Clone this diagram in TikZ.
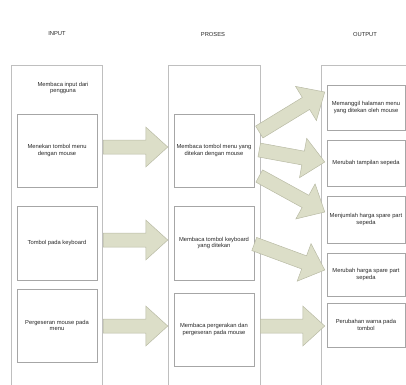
\documentclass[tikz,border=0pt]{standalone}
\usepackage{fontspec}
\setmainfont{Liberation Sans}
\usetikzlibrary{calc}
\definecolor{panahisi}{RGB}{220,222,200}
\definecolor{panahgaris}{RGB}{185,187,165}

% block arrow from #1 to #2
\newcommand{\blok}[2]{%
  \coordinate (hb) at ($(#2)!22pt!(#1)$);
  \draw[panah] ($(#1)!7pt!90:(#2)$) -- ($(hb)!7pt!90:(#2)$) -- ($(hb)!20pt!90:(#2)$) -- (#2)
    -- ($(hb)!20pt!-90:(#2)$) -- ($(hb)!7pt!-90:(#2)$) -- ($(#1)!7pt!-90:(#2)$) -- cycle;
}

\begin{document}
\begin{tikzpicture}[x=1pt,y=-1pt,
  kolom/.style={draw=black!25, line width=0.6pt},
  kotak/.style={draw=black!35, line width=0.5pt, align=center, inner sep=1pt,
    font=\fontsize{5.8}{6.6}\selectfont, text=black!85},
  judul/.style={font=\fontsize{5.8}{6.6}\selectfont, text=black!85},
  panah/.style={fill=panahisi, draw=panahgaris, line width=0.5pt}]
  \useasboundingbox (0,0) rectangle (406,384);
  \def\lb{80}   % box width input/proses
  \def\lo{78}   % box width output
  % columns
  \foreach \a/\b in {11/102,168/260,321/412} { \draw[kolom] (\a,390) -- (\a,65) -- (\b,65) -- (\b,390); }
  \node[judul] (hin) at (57,34) {INPUT};
  \node[judul] (hpr) at (213,34) {PROSES};
  \node[judul] (hout) at (365,34) {OUTPUT};
  % input
  \node[judul, align=center] (in0) at (63,88) {Membaca input dari\\pengguna};
  \node[kotak, minimum width=\lb, minimum height=73] (in1) at (57,150.5) {Menekan tombol menu\\dengan mouse};
  \node[kotak, minimum width=\lb, minimum height=74] (in2) at (57,243) {Tombol pada keyboard};
  \node[kotak, minimum width=\lb, minimum height=73] (in3) at (57,325.5) {Pergeseran mouse pada\\menu};
  % proses
  \node[kotak, minimum width=\lb, minimum height=73] (pr1) at (214,150.5) {Membaca tombol menu yang\\ditekan dengan mouse};
  \node[kotak, minimum width=\lb, minimum height=74] (pr2) at (214,243) {Membaca tombol keyboard\\yang ditekan};
  \node[kotak, minimum width=\lb, minimum height=73] (pr3) at (214,329.5) {Membaca pergerakan dan\\pergeseran pada mouse};
  % output
  \node[kotak, minimum width=\lo, minimum height=45] (out1) at (366,107.5) {Memanggil halaman menu\\yang ditekan oleh mouse};
  \node[kotak, minimum width=\lo, minimum height=46] (out2) at (366,163) {Merubah tampilan sepeda};
  \node[kotak, minimum width=\lo, minimum height=47] (out3) at (366,219.5) {Menjumlah harga spare part\\sepeda};
  \node[kotak, minimum width=\lo, minimum height=43] (out4) at (366,274.5) {Merubah harga spare part\\sepeda};
  \node[kotak, minimum width=\lo, minimum height=44] (out5) at (366,325) {Perubahan warna pada\\tombol};
  % arrows input -> proses
  \coordinate (a1) at ([shift={(6,-3.5)}]in1.east);  \coordinate (b1) at ([shift={(-6,-3.5)}]pr1.west);
  \coordinate (a2) at ([shift={(6,-3)}]in2.east);    \coordinate (b2) at ([shift={(-6,-3)}]pr2.west);
  \coordinate (a3) at ([shift={(6,0.5)}]in3.east);   \coordinate (b3) at ([shift={(-6,-3.5)}]pr3.west);
  % arrows proses -> output
  \coordinate (c1) at ([shift={(5,-18.5)}]pr1.east); \coordinate (d1) at ([shift={(-2,-15.5)}]out1.west);
  \coordinate (c2) at ([shift={(5,-0.5)}]pr1.east);  \coordinate (d2) at ([shift={(-2,-1)}]out2.west);
  \coordinate (c3) at ([shift={(5,25.5)}]pr1.east);  \coordinate (d3) at ([shift={(-2,-7.5)}]out3.west);
  \coordinate (c4) at ([shift={(0,1)}]pr2.east);     \coordinate (d4) at ([shift={(-2,-4.5)}]out4.west);
  \coordinate (c5) at ([shift={(6,-3.5)}]pr3.east);  \coordinate (d5) at ([shift={(-2,1)}]out5.west);
  \foreach \p/\q in {a1/b1,a2/b2,a3/b3,c1/d1,c2/d2,c3/d3,c4/d4,c5/d5} { \blok{\p}{\q} }
\end{tikzpicture}
\end{document}
